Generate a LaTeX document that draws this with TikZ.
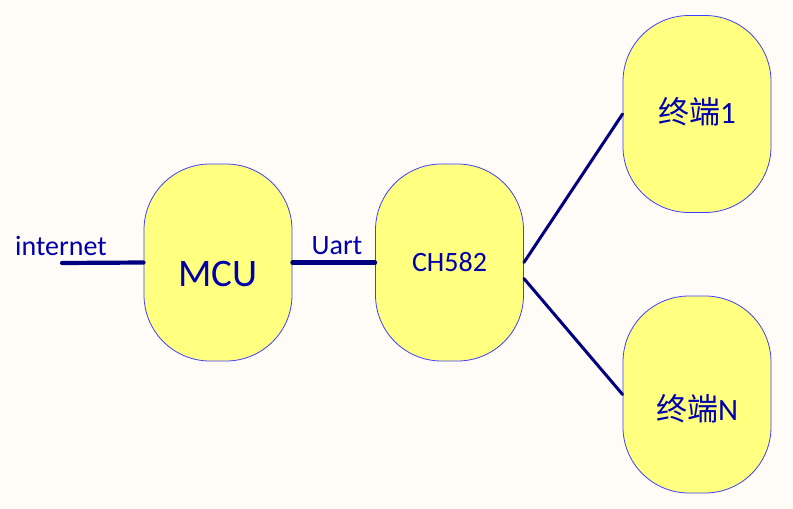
\documentclass[tikz,border=0pt]{standalone}
\usepackage{fontspec}
\setmainfont{Carlito}
\newfontfamily\cjk{Noto Sans CJK SC}
\definecolor{bgc}{RGB}{255,252,247}
\definecolor{boxfill}{RGB}{255,255,128}
\definecolor{boxline}{RGB}{64,64,255}
\definecolor{txt}{RGB}{0,0,170}
\definecolor{wire}{RGB}{0,0,128}
\tikzset{
  pill/.style={draw=boxline, line width=0.8pt, fill=boxfill, rounded corners=66pt,
    minimum width=148pt, minimum height=197pt, inner sep=0pt},
  thickwire/.style={draw=wire, line width=4.2pt, line cap=round},
  thinwire/.style={draw=wire, line width=3pt, line cap=round},
  lbl/.style={text=txt, inner sep=0pt, font=\fontsize{28}{32}\selectfont},
  big/.style={text=txt, inner sep=0pt, font=\fontsize{39}{44}\selectfont},
  term/.style={text=txt, inner sep=0pt, font=\fontsize{31}{36}\selectfont}
}
\begin{document}
\begin{tikzpicture}[x=1pt,y=-1pt]
\fill[bgc] (0,0) rectangle (793,509);
\useasboundingbox (0,0) rectangle (793,509);
\node[pill] (mcu) at (218,262.5) {};
\node[pill] (ch) at (449.5,262.5) {};
\node[pill] (t1) at (697,114) {};
\node[pill] (tn) at (697,394.5) {};
\node[big, anchor=center] (mcutxt) at ([yshift=-11pt]mcu.center) {MCU};
\node[lbl] (chtxt) at (ch.center) {CH582};
\node[term] (t1txt) at ([yshift=2pt]t1.center) {{\cjk 终端}1};
\node[term] (tntxt) at ([yshift=-14pt]tn.center) {{\cjk 终端}N};
\coordinate (inet) at (62,263);
\draw[thickwire] (inet) -- (mcu.west);
\draw[thickwire] (mcu.east) -- (ch.west);
\draw[thinwire] (ch.east) -- (t1.west);
\draw[thinwire] ([yshift=-16pt]ch.east) -- (tn.west);
\node[lbl] (linet) at (61,246) {internet};
\node[lbl] (luart) at (337,246) {Uart};
\end{tikzpicture}
\end{document}
